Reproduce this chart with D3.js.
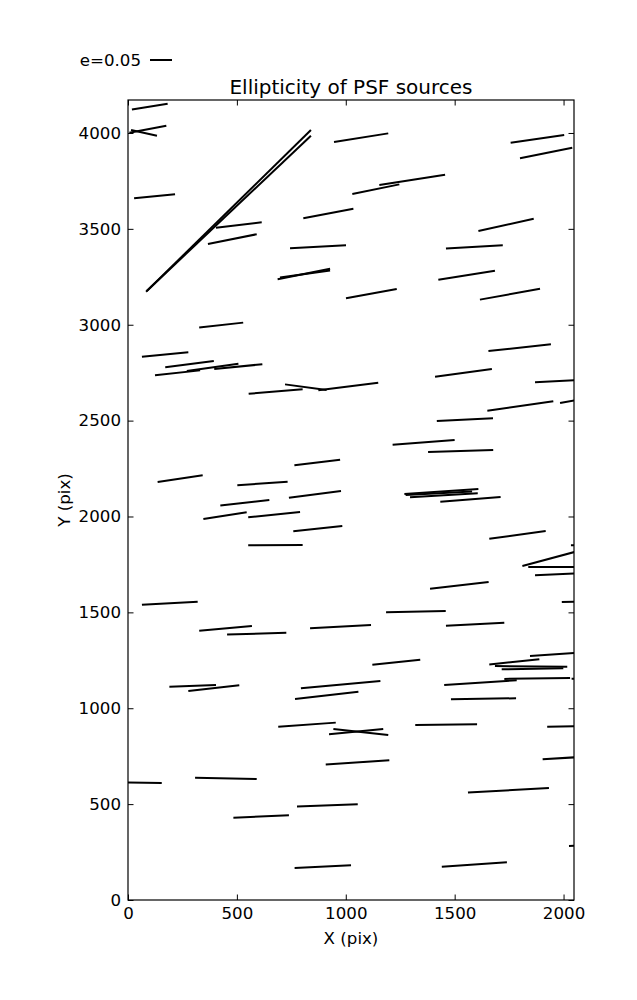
<!DOCTYPE html>
<html><head><meta charset="utf-8">
<script src="https://cdn.jsdelivr.net/npm/d3@7"></script>
<style>
body{margin:0;background:#fff;}
text{font-family:"DejaVu Sans",sans-serif;}
</style></head>
<body><svg id="chart" width="637" height="1000"></svg>
<script>
// Whisker endpoints in detector pixel units: [x0, y0, x1, y1]
const whiskers = [
  [18,4123,182,4153],[6,4001,176,4038],[14,4016,133,3986],
  [83,3172,840,4016],[86,3176,840,3986],
  [946,3953,1195,3998],[28,3659,216,3680],[805,3555,1035,3605],
  [404,3506,614,3534],[367,3421,591,3472],[744,3399,1001,3414],
  [687,3237,928,3292],[698,3246,928,3283],[1001,3138,1234,3186],
  [1757,3949,2003,3989],[1800,3868,2040,3923],[1154,3729,1456,3782],
  [1030,3682,1246,3732],[1609,3489,1863,3553],[1460,3397,1721,3414],
  [1425,3235,1685,3282],[1616,3131,1892,3188],
  [327,2985,529,3011],[64,2833,277,2856],[171,2778,394,2811],
  [124,2736,331,2762],[270,2759,507,2797],[396,2769,617,2794],
  [554,2640,802,2663],[721,2689,912,2660],[874,2658,1149,2698],
  [1655,2863,1942,2898],[1410,2729,1671,2769],[1869,2700,2100,2713],
  [1650,2552,1953,2601],[1984,2592,2110,2618],[1418,2498,1676,2512],
  [1215,2374,1500,2399],[1378,2336,1677,2347],
  [136,2180,343,2215],[502,2163,733,2181],[764,2267,974,2296],
  [739,2098,978,2133],[424,2057,649,2086],
  [1269,2117,1609,2143],[1295,2100,1606,2121],[1275,2112,1580,2130],[1434,2077,1711,2102],
  [346,1987,545,2022],[552,1996,790,2023],[759,1923,984,1950],[552,1850,802,1851],
  [1659,1884,1918,1924],[2034,1850,2150,1848],[1811,1742,2100,1830],
  [1838,1737,2120,1737],[1869,1693,2100,1705],[1387,1623,1656,1658],
  [1992,1554,2110,1558],
  [64,1540,320,1556],[327,1404,569,1429],[455,1384,727,1394],[836,1417,1116,1434],
  [1185,1500,1459,1507],[1460,1430,1728,1446],
  [1122,1227,1342,1253],[1846,1272,2100,1292],[1659,1228,1889,1256],
  [1685,1220,2017,1217],[1716,1203,1999,1208],[1728,1153,2030,1158],
  [2037,1154,2140,1157],[1452,1121,1785,1146],[1483,1047,1782,1052],
  [190,1112,404,1121],[277,1090,511,1120],[794,1104,1159,1142],[767,1048,1058,1086],
  [690,904,954,925],[923,864,1172,892],[943,892,1195,860],[908,706,1200,729],
  [-30,614,155,610],[308,638,591,631],[484,429,739,442],[776,487,1055,499],
  [765,167,1024,181],[1319,913,1603,916],[1925,904,2110,908],[1904,734,2110,748],
  [1561,560,1933,584],[2025,282,2140,285],[1441,174,1740,197]
];
const xTicks = [0,500,1000,1500,2000];
const yTicks = [0,500,1000,1500,2000,2500,3000,3500,4000];
const xDomain = [0,2048];
const yDomain = [0,4172];
const keyValue = 0.05;
const keyLabel = "e=0.05";
const titleText = "Ellipticity of PSF sources";
const xLabel = "X (pix)";
const yLabel = "Y (pix)";

const svg = d3.select("#chart");
const L=128, R=574, T=100, B=900;
const x = d3.scaleLinear().domain(xDomain).range([L,R]);
const y = d3.scaleLinear().domain(yDomain).range([B,T]);
const keyScale = d3.scaleLinear().domain([0,0.05]).range([0,22]);
const fs = "16.67px";

svg.append("clipPath").attr("id","clip").append("rect")
  .attr("x",L).attr("y",T).attr("width",R-L).attr("height",B-T);

svg.append("g").attr("clip-path","url(#clip)")
  .selectAll("line").data(whiskers).join("line")
  .attr("x1",d=>x(d[0])).attr("y1",d=>y(d[1]))
  .attr("x2",d=>x(d[2])).attr("y2",d=>y(d[3]))
  .attr("stroke","#000").attr("stroke-width",2).attr("stroke-linecap","butt");

function styleAxis(g){
  g.select(".domain").remove();
  g.selectAll(".tick line").attr("stroke","#000").attr("stroke-width",1);
  g.selectAll("text").attr("font-size",fs).attr("fill","#000").attr("font-family","DejaVu Sans");
}
svg.append("g").attr("transform",`translate(0,${B})`)
  .call(d3.axisBottom(x).tickValues(xTicks).tickFormat(d3.format("d")).tickSizeInner(-5.5).tickSizeOuter(0).tickPadding(7))
  .call(styleAxis);
svg.append("g").attr("transform",`translate(0,${T})`)
  .call(d3.axisTop(x).tickValues(xTicks).tickFormat("").tickSizeInner(-5.5).tickSizeOuter(0))
  .call(styleAxis);
svg.append("g").attr("transform",`translate(${L},0)`)
  .call(d3.axisLeft(y).tickValues(yTicks).tickFormat(d3.format("d")).tickSizeInner(-5.5).tickSizeOuter(0).tickPadding(7))
  .call(styleAxis);
svg.append("g").attr("transform",`translate(${R},0)`)
  .call(d3.axisRight(y).tickValues(yTicks).tickFormat("").tickSizeInner(-5.5).tickSizeOuter(0))
  .call(styleAxis);

svg.append("rect").attr("x",L).attr("y",T).attr("width",R-L).attr("height",B-T)
  .attr("fill","none").attr("stroke","#000").attr("stroke-width",1.2);

svg.append("text").attr("x",(L+R)/2).attr("y",94).attr("text-anchor","middle")
  .attr("font-size","20px").text(titleText);
svg.append("text").attr("x",(L+R)/2).attr("y",944).attr("text-anchor","middle")
  .attr("font-size",fs).text(xLabel);
svg.append("text").attr("transform",`translate(70,${(T+B)/2}) rotate(-90)`).attr("text-anchor","middle")
  .attr("font-size",fs).text(yLabel);

svg.append("text").attr("x",141).attr("y",66).attr("text-anchor","end")
  .attr("font-size",fs).text(keyLabel);
svg.append("line").attr("x1",150).attr("x2",150+keyScale(keyValue)).attr("y1",60).attr("y2",60)
  .attr("stroke","#000").attr("stroke-width",2);
</script></body></html>
